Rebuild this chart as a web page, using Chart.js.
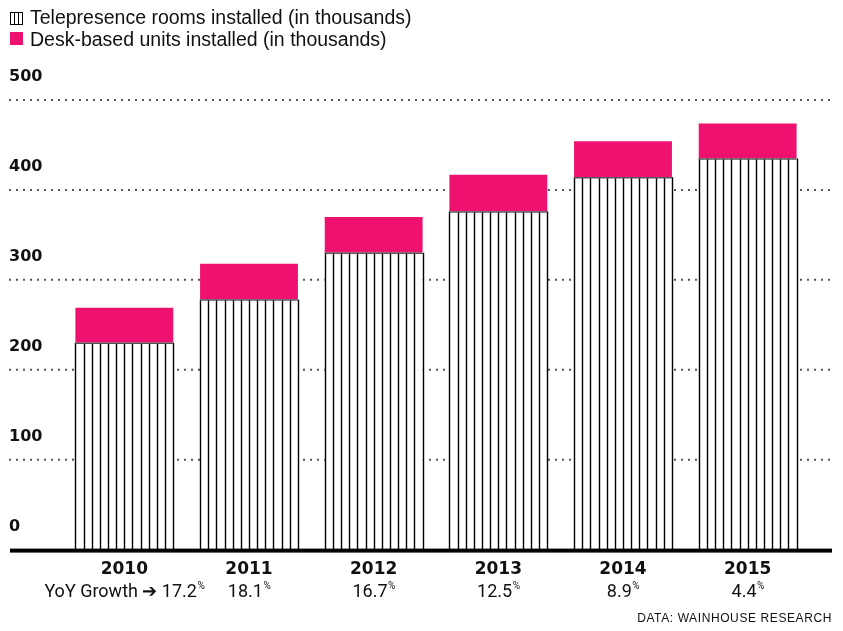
<!DOCTYPE html>
<html>
<head>
<meta charset="utf-8">
<script src="https://cdn.jsdelivr.net/npm/chart.js@4.4.1/dist/chart.umd.min.js"></script>
<style>
  html, body { margin: 0; padding: 0; background: #fff; }
  #wrap { width: 843px; height: 631px; }
</style>
</head>
<body>
<div id="wrap"><canvas id="bar-chart" width="843" height="631"></canvas></div>
<script>
const years = ["2010", "2011", "2012", "2013", "2014", "2015"];
const rooms = [230, 278, 330, 376, 414, 435];
const desk = [39, 40, 40, 41, 40, 39];
const growth = ["17.2", "18.1", "16.7", "12.5", "8.9", "4.4"];
const yTicks = [0, 100, 200, 300, 400, 500];

const pink = "#ee1170";

// dotted grid + y labels, drawn from the y scale
const gridPlugin = {
    id: "grid",
    beforeDatasetsDraw(chart) {
        const ctx = chart.ctx;
        const y = chart.scales.y;
        ctx.save();
        ctx.strokeStyle = "#555";
        ctx.lineWidth = 2;
        ctx.setLineDash([2, 5]);
        yTicks.forEach(function (v) {
            const py = y.getPixelForValue(v);
            if (v > 0) {
                ctx.beginPath();
                ctx.moveTo(9, py);
                ctx.lineTo(832, py);
                ctx.stroke();
            }
            ctx.fillStyle = "#111";
            ctx.font = "bold 16px 'DejaVu Sans'";
            ctx.textAlign = "left";
            ctx.textBaseline = "alphabetic";
            ctx.fillText(String(v), 9, py - 19);
        });
        ctx.restore();
    }
};

// stripes on the telepresence bars, baseline, growth row, legend, source
const decorPlugin = {
    id: "decor",
    afterDatasetsDraw(chart) {
        const ctx = chart.ctx;
        const meta = chart.getDatasetMeta(0);
        ctx.save();
        meta.data.forEach(function (bar) {
            const p = bar.getProps(["x", "y", "base", "width"], true);
            const left = p.x - p.width / 2;
            ctx.strokeStyle = "#000";
            ctx.lineWidth = 1.4;
            for (let i = 0; i <= 12; i++) {
                const lx = Math.round(left + i * p.width / 12) + 0.5;
                ctx.beginPath();
                ctx.moveTo(lx, p.y);
                ctx.lineTo(lx, p.base);
                ctx.stroke();
            }
            ctx.strokeStyle = "#555";
            ctx.lineWidth = 1.5;
            ctx.beginPath();
            ctx.moveTo(left, p.y + 0.5);
            ctx.lineTo(left + p.width, p.y + 0.5);
            ctx.stroke();
        });

        const y0 = chart.scales.y.getPixelForValue(0);
        ctx.fillStyle = "#000";
        ctx.fillRect(10, y0 - 1, 822, 4);

        // growth row
        const x = chart.scales.x;
        ctx.textBaseline = "alphabetic";
        growth.forEach(function (g, i) {
            const main = (i === 0 ? "YoY Growth \u2794 " : "") + g;
            ctx.font = "18px Roboto";
            const w1 = ctx.measureText(main).width;
            ctx.font = "10px Roboto";
            const w2 = ctx.measureText("%").width;
            const sx = x.getPixelForValue(i) - (w1 + w2) / 2;
            ctx.fillStyle = "#111";
            ctx.font = "18px Roboto";
            ctx.textAlign = "left";
            ctx.fillText(main, sx, 597);
            ctx.font = "10px Roboto";
            ctx.fillText("%", sx + w1 + 0.5, 589);
        });

        // legend
        ctx.strokeStyle = "#000";
        ctx.lineWidth = 1;
        ctx.strokeRect(10.5, 12.5, 12, 12);
        ctx.beginPath();
        ctx.moveTo(14.5, 12.5); ctx.lineTo(14.5, 24.5);
        ctx.moveTo(18.5, 12.5); ctx.lineTo(18.5, 24.5);
        ctx.stroke();
        ctx.fillStyle = pink;
        ctx.fillRect(10, 32, 13, 13);
        ctx.fillStyle = "#111";
        ctx.font = "19.5px 'Liberation Sans'";
        ctx.textBaseline = "middle";
        ctx.fillText("Telepresence rooms installed (in thousands)", 30, 18.5);
        ctx.fillText("Desk-based units installed (in thousands)", 30, 40.5);

        // source
        ctx.font = "12px 'Liberation Sans'";
        ctx.letterSpacing = "0.6px";
        ctx.textAlign = "right";
        ctx.textBaseline = "alphabetic";
        ctx.fillText("DATA: WAINHOUSE RESEARCH", 832, 622);
        ctx.restore();
    }
};

new Chart(document.getElementById("bar-chart"), {
    type: "bar",
    data: {
        labels: years,
        datasets: [
            {
                label: "Telepresence rooms installed (in thousands)",
                backgroundColor: "#fff",
                data: rooms
            },
            {
                label: "Desk-based units installed (in thousands)",
                backgroundColor: pink,
                data: desk
            }
        ]
    },
    options: {
        responsive: false,
        animation: false,
        layout: {
            padding: { top: 100, left: 62, right: 33, bottom: 49 }
        },
        categoryPercentage: 1,
        barPercentage: 0.785,
        plugins: {
            legend: { display: false },
            tooltip: { enabled: false }
        },
        scales: {
            x: {
                stacked: true,
                grid: { display: false },
                border: { display: false },
                ticks: {
                    padding: 2,
                    color: "#111",
                    font: { family: "DejaVu Sans", weight: "bold", size: 17 }
                }
            },
            y: {
                stacked: true,
                display: false,
                min: 0,
                max: 500
            }
        }
    },
    plugins: [gridPlugin, decorPlugin]
});
</script>
</body>
</html>
